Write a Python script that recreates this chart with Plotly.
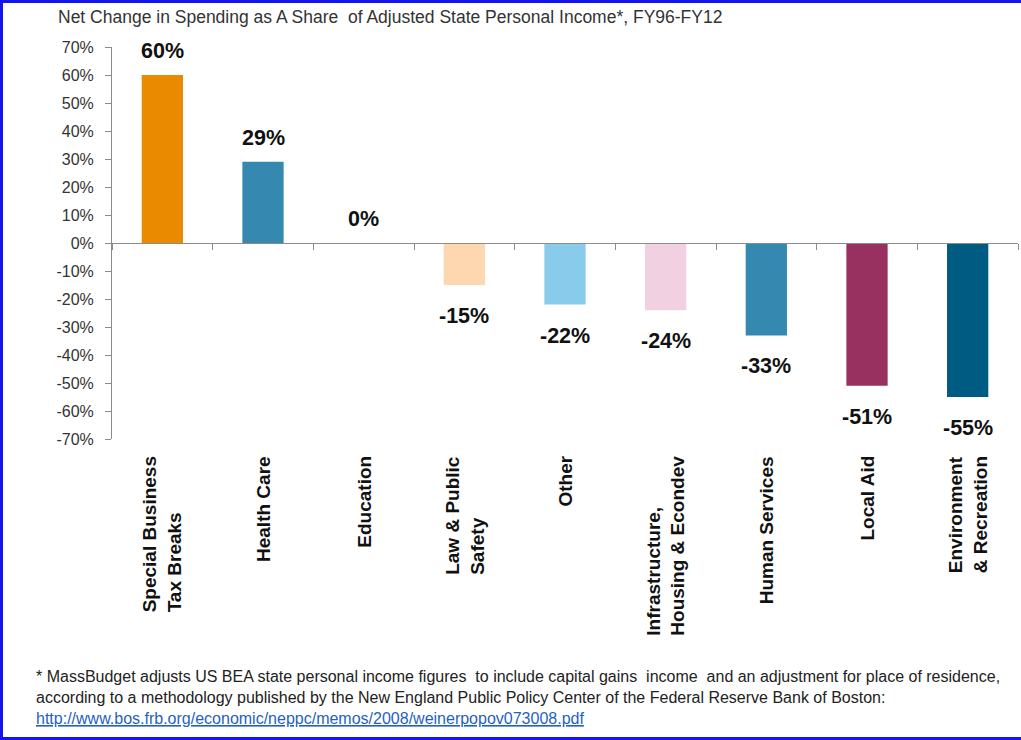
import plotly.graph_objects as go

# Spending categories and net change (percent of adjusted state personal income)
categories = [
    "Special Business<br>Tax Breaks",
    "Health Care",
    "Education",
    "Law &amp; Public<br>Safety",
    "Other",
    "Infrastructure,<br>Housing &amp; Econdev",
    "Human Services",
    "Local Aid",
    "Environment<br>&amp; Recreation",
]
net_change = [60, 29, 0, -15, -22, -24, -33, -51, -55]
bar_colors = [
    "#E98A00", "#3589B1", "#3589B1", "#FDD7B0", "#89CBEB",
    "#F1D1E1", "#3589B1", "#993160", "#005B82",
]
y_ticks = list(range(-70, 80, 10))
y_tick_labels = [f"{v}%" for v in y_ticks]

W, H = 1021, 740
L, R, T, B = 112, 3, 47, 301
PW, PH = W - L - R, H - T - B
SANS = "Liberation Sans, Arial, sans-serif"


def px_x(px):
    return (px - L) / PW


def px_y(py):
    return (H - B - py) / PH


fig = go.Figure()
fig.add_trace(go.Bar(
    x=categories,
    y=net_change,
    marker=dict(color=bar_colors, line=dict(width=0)),
    width=0.41,
    hoverinfo="skip",
))

annotations = []
# value labels above positive bars / below negative bars
for cat, v in zip(categories, net_change):
    annotations.append(dict(
        x=cat, y=v, xref="x", yref="y",
        text=f"<b>{v}%</b>", showarrow=False,
        font=dict(family=SANS, size=21.5, color="#111111"),
        yshift=(-31 if v < 0 else 24),
        xanchor="center", yanchor="middle",
    ))

# rotated category labels beneath the plot
for cat in categories:
    annotations.append(dict(
        x=cat, y=px_y(454), xref="x", yref="paper",
        text=f"<b>{cat}</b>", showarrow=False, textangle=-90,
        align="left", xanchor="center", yanchor="top",
        font=dict(family=SANS, size=19, color="#111111"),
    ))

annotations.append(dict(
    x=px_x(56), y=px_y(17), xref="paper", yref="paper",
    text="Net Change in Spending as A Share  of Adjusted State Personal Income*, FY96-FY12",
    showarrow=False, xanchor="left", yanchor="middle",
    font=dict(family=SANS, size=17.5, color="#333333"),
))

foot_font = dict(family=SANS, size=16, color="#222222")
annotations.append(dict(
    x=px_x(34), y=px_y(676), xref="paper", yref="paper",
    text="* MassBudget adjusts US BEA state personal income figures  to include capital gains  income  and an adjustment for place of residence,",
    showarrow=False, xanchor="left", yanchor="middle", font=foot_font,
))
annotations.append(dict(
    x=px_x(34), y=px_y(697), xref="paper", yref="paper",
    text="according to a methodology published by the New England Public Policy Center of the Federal Reserve Bank of Boston:",
    showarrow=False, xanchor="left", yanchor="middle", font=foot_font,
))
annotations.append(dict(
    x=px_x(34), y=px_y(718), xref="paper", yref="paper",
    text="<u>http://www.bos.frb.org/economic/neppc/memos/2008/weinerpopov073008.pdf</u>",
    showarrow=False, xanchor="left", yanchor="middle",
    font=dict(family=SANS, size=16, color="#1F5FC8"),
))

border = "#1414F0"
shapes = [
    dict(type="line", xref="paper", yref="paper",
         x0=px_x(1.5), x1=px_x(W), y0=px_y(1.5), y1=px_y(1.5),
         line=dict(color=border, width=3)),
    dict(type="line", xref="paper", yref="paper",
         x0=px_x(1.5), x1=px_x(W), y0=px_y(738.5), y1=px_y(738.5),
         line=dict(color=border, width=3)),
    dict(type="line", xref="paper", yref="paper",
         x0=px_x(1.5), x1=px_x(1.5), y0=px_y(0), y1=px_y(H),
         line=dict(color=border, width=3)),
]

fig.update_layout(
    width=W, height=H,
    margin=dict(l=L, r=R, t=T, b=B),
    paper_bgcolor="white", plot_bgcolor="white",
    showlegend=False,
    bargap=0.59,
    annotations=annotations,
    shapes=shapes,
    xaxis=dict(
        type="category",
        anchor="free", position=0.5,
        showticklabels=False,
        showline=True, linecolor="#8C8C8C", linewidth=1,
        ticks="outside", tickson="boundaries", ticklen=6,
        tickcolor="#8C8C8C", tickwidth=1,
        showgrid=False, zeroline=False,
        range=[-0.5, 8.5],
    ),
    yaxis=dict(
        range=[-70, 70],
        tickvals=y_ticks, ticktext=y_tick_labels,
        showline=True, linecolor="#8C8C8C", linewidth=1,
        ticks="outside", ticklen=6, tickcolor="#8C8C8C",
        showgrid=False, zeroline=False,
        tickfont=dict(family=SANS, size=16, color="#333333"),
        ticklabelstandoff=8,
    ),
)

fig.write_html("out.html")
